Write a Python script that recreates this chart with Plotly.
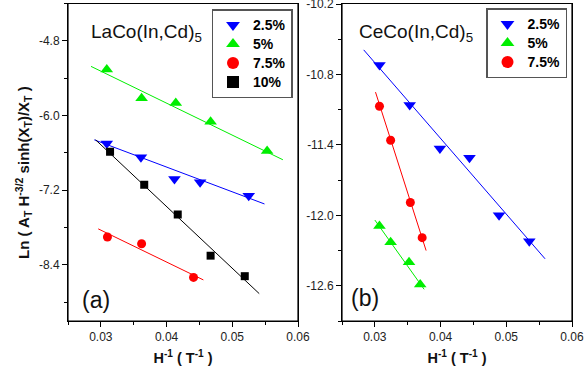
import plotly.graph_objects as go

# ---------------- data: panel (a) LaCo(In,Cd)5 ----------------
la_x_25 = [0.0309, 0.0361, 0.0412, 0.0451, 0.0525]
la_y_25 = [-6.45, -6.67, -7.02, -7.07, -7.29]
la_x_5 = [0.0309, 0.0362, 0.0414, 0.0467, 0.0553]
la_y_5 = [-5.26, -5.72, -5.80, -6.10, -6.57]
la_x_75 = [0.0310, 0.0362, 0.0441]
la_y_75 = [-7.95, -8.06, -8.60]
la_x_10 = [0.0314, 0.0366, 0.0417, 0.0467, 0.0519]
la_y_10 = [-6.58, -7.11, -7.59, -8.25, -8.58]
# fitted lines (end points)
la_fit_x_25 = [0.0290, 0.0549]
la_fit_y_25 = [-6.39, -7.42]
la_fit_x_5 = [0.0285, 0.0577]
la_fit_y_5 = [-5.21, -6.71]
la_fit_x_75 = [0.0296, 0.0456]
la_fit_y_75 = [-7.82, -8.64]
la_fit_x_10 = [0.0292, 0.0541]
la_fit_y_10 = [-6.39, -8.86]

# ---------------- data: panel (b) CeCo(In,Cd)5 ----------------
ce_x_25 = [0.0307, 0.0353, 0.0399, 0.0444, 0.0489, 0.0535]
ce_y_25 = [-10.72, -11.06, -11.43, -11.51, -12.00, -12.22]
ce_x_5 = [0.0307, 0.0324, 0.0352, 0.0369]
ce_y_5 = [-12.09, -12.23, -12.40, -12.59]
ce_x_75 = [0.0307, 0.0324, 0.0354, 0.0372]
ce_y_75 = [-11.07, -11.36, -11.89, -12.19]
ce_fit_x_25 = [0.0283, 0.0559]
ce_fit_y_25 = [-10.59, -12.37]
ce_fit_x_5 = [0.0300, 0.0375]
ce_fit_y_5 = [-12.04, -12.63]
ce_fit_x_75 = [0.0301, 0.0378]
ce_fit_y_75 = [-10.95, -12.30]

labels = ["2.5%", "5%", "7.5%", "10%"]

# tick labels
x_tickvals = [0.03, 0.04, 0.05, 0.06]
x_ticktext = ["0.03", "0.04", "0.05", "0.06"]
ya_tickvals = [-4.8, -6.0, -7.2, -8.4]
ya_ticktext = ["-4.8", "-6.0", "-7.2", "-8.4"]
yb_tickvals = [-10.2, -10.8, -11.4, -12.0, -12.6]
yb_ticktext = ["-10.2", "-10.8", "-11.4", "-12.0", "-12.6"]

X_RANGE = [0.025, 0.06]
YA_RANGE = [-9.3, -4.2]
YB_RANGE = [-12.9, -10.195]

BLUE = "#0000FF"
GREEN = "#00EE00"
RED = "#FF0000"
BLACK = "#000000"
FONT = "Arial, Liberation Sans, sans-serif"

fig = go.Figure()

def add_series(x, y, fx, fy, name, color, symbol, size, xa, ya, legend):
    fig.add_trace(go.Scatter(x=fx, y=fy, mode="lines", line=dict(color=color, width=1),
                             showlegend=False, xaxis=xa, yaxis=ya, hoverinfo="skip"))
    fig.add_trace(go.Scatter(x=x, y=y, mode="markers",
                             name='<span style="font-size:14px">%s</span>' % name,
                             marker=dict(color=color, symbol=symbol, size=size, line=dict(width=0)),
                             xaxis=xa, yaxis=ya, legend=legend))

# panel (a)
add_series(la_x_25, la_y_25, la_fit_x_25, la_fit_y_25, labels[0], BLUE, "triangle-down", 11, "x", "y", "legend")
add_series(la_x_5, la_y_5, la_fit_x_5, la_fit_y_5, labels[1], GREEN, "triangle-up", 11, "x", "y", "legend")
add_series(la_x_75, la_y_75, la_fit_x_75, la_fit_y_75, labels[2], RED, "circle", 9, "x", "y", "legend")
add_series(la_x_10, la_y_10, la_fit_x_10, la_fit_y_10, labels[3], BLACK, "square", 8, "x", "y", "legend")
# panel (b)
add_series(ce_x_25, ce_y_25, ce_fit_x_25, ce_fit_y_25, labels[0], BLUE, "triangle-down", 11, "x2", "y2", "legend2")
add_series(ce_x_5, ce_y_5, ce_fit_x_5, ce_fit_y_5, labels[1], GREEN, "triangle-up", 11, "x2", "y2", "legend2")
add_series(ce_x_75, ce_y_75, ce_fit_x_75, ce_fit_y_75, labels[2], RED, "circle", 9, "x2", "y2", "legend2")

W, H = 584, 375
dxa = [68 / W, 298 / W]
dxb = [342 / W, 572 / W]
dy = [1 - 321 / H, 1 - 3.5 / H]

tickfont = dict(family=FONT, size=12, color="#222")
titlefont = dict(family=FONT, size=14.5, color="#111", weight="bold")

xcommon = dict(range=X_RANGE, tickmode="array", tickvals=x_tickvals, ticktext=x_ticktext,
               ticks="outside", ticklen=5, tickwidth=1, tickcolor="black",
               minor=dict(dtick=0.005, tick0=0.03, ticks="outside", ticklen=3, tickcolor="black"),
               showline=True, mirror=True, linecolor="black", linewidth=1, showgrid=False,
               zeroline=False, tickfont=tickfont, automargin=False, ticklabeloverflow="allow",
               title=dict(text="<b>H<sup>-1</sup> ( T<sup>-1</sup> )</b>", font=titlefont, standoff=9))
ycommon = dict(ticks="outside", ticklen=5, tickwidth=1, tickcolor="black", tickmode="array",
               showline=True, mirror=True, linecolor="black", linewidth=1, showgrid=False,
               zeroline=False, tickfont=tickfont, automargin=False, ticklabeloverflow="allow")

legfont = dict(size=11.8, color="black", weight="bold", family=FONT)

# plot frames (box around each panel), in paper coordinates so they are not clipped
frames = [
    dict(type="rect", xref="paper", yref="paper", x0=dxa[0], x1=dxa[1], y0=dy[0], y1=dy[1],
         line=dict(color="black", width=1.2), fillcolor="rgba(0,0,0,0)", layer="above"),
    dict(type="rect", xref="paper", yref="paper", x0=dxb[0], x1=dxb[1], y0=dy[0], y1=dy[1],
         line=dict(color="black", width=1.2), fillcolor="rgba(0,0,0,0)", layer="above"),
]

fig.update_layout(
    width=W, height=H,
    margin=dict(l=0, r=0, t=0, b=0),
    paper_bgcolor="white", plot_bgcolor="white",
    template="none",
    font=dict(family=FONT),
    xaxis=dict(domain=dxa, anchor="y", **xcommon),
    yaxis=dict(domain=dy, anchor="x", range=YA_RANGE, tickvals=ya_tickvals, ticktext=ya_ticktext,
               minor=dict(dtick=0.6, tick0=-4.8, ticks="outside", ticklen=3, tickcolor="black"),
               **ycommon),
    xaxis2=dict(domain=dxb, anchor="y2", **xcommon),
    yaxis2=dict(domain=dy, anchor="x2", range=YB_RANGE, tickvals=yb_tickvals, ticktext=yb_ticktext,
                minor=dict(dtick=0.3, tick0=-10.2, ticks="outside", ticklen=3, tickcolor="black"),
                **ycommon),
    shapes=frames,
    legend=dict(x=211.5 / W, y=1 - 9 / H, xanchor="left", yanchor="top",
                bgcolor="white", bordercolor="#555", borderwidth=1.5,
                font=legfont, tracegroupgap=0, itemsizing="constant"),
    legend2=dict(x=486 / W, y=1 - 8 / H, xanchor="left", yanchor="top",
                 bgcolor="white", bordercolor="#555", borderwidth=1.5,
                 font=legfont, tracegroupgap=0, itemsizing="constant"),
    showlegend=True,
    annotations=[
        dict(text="<b>Ln ( A<sub>T</sub> H<sup>-3/2</sup> sinh(X<sub>T</sub>)/X<sub>T</sub> )</b>",
             x=23 / W, y=1 - 173 / H, xref="paper", yref="paper", textangle=-90,
             xanchor="center", yanchor="middle", showarrow=False,
             font=dict(size=15, color="#111", family=FONT)),
        dict(text="LaCo(In,Cd)<sub>5</sub>", x=89 / W, y=1 - 33 / H, xref="paper", yref="paper",
             xanchor="left", yanchor="middle", showarrow=False,
             font=dict(size=19, color="#111", family=FONT)),
        dict(text="CeCo(In,Cd)<sub>5</sub>", x=357 / W, y=1 - 33 / H, xref="paper", yref="paper",
             xanchor="left", yanchor="middle", showarrow=False,
             font=dict(size=19, color="#111", family=FONT)),
        dict(text="(a)", x=80 / W, y=1 - 300 / H, xref="paper", yref="paper",
             xanchor="left", yanchor="middle", showarrow=False,
             font=dict(size=23, color="#111", family=FONT)),
        dict(text="(b)", x=349 / W, y=1 - 298 / H, xref="paper", yref="paper",
             xanchor="left", yanchor="middle", showarrow=False,
             font=dict(size=23, color="#111", family=FONT)),
    ],
)

fig.write_html("out.html", config={"displayModeBar": False},
               post_script="document.body.style.margin='0';document.body.style.overflow='hidden';")
